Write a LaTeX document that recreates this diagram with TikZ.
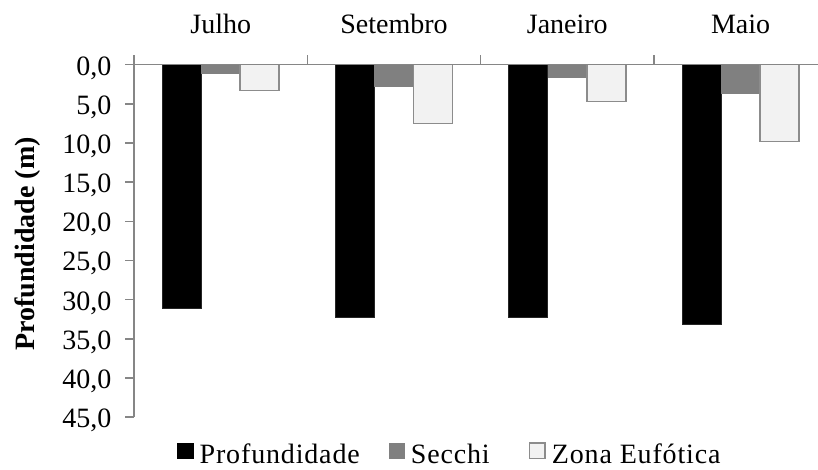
\documentclass[tikz,border=0pt]{standalone}
\usepackage{fontspec}
\setmainfont{Liberation Serif}
\definecolor{axisgray}{HTML}{868686}
\definecolor{secchigray}{HTML}{808080}
\definecolor{eufill}{HTML}{F2F2F2}
\definecolor{euline}{HTML}{8C8C8C}
\tikzset{
  axisline/.style={draw=axisgray, line width=1.5pt},
  lbl/.style={font=\fontsize{28}{32}\selectfont, inner sep=0pt, text=black},
  leglbl/.style={font=\fontsize{28}{32}\selectfont\addfontfeature{LetterSpace=3}, inner sep=0pt, anchor=base west},
  profbar/.style={fill=black, draw=black!85, line width=0.8pt},
  secbar/.style={fill=secchigray},
  eubar/.style={fill=eufill, draw=euline, line width=1.5pt},
}
\begin{document}
\begin{tikzpicture}[x=1pt,y=-1pt]
\useasboundingbox (0,0) rectangle (818,469);
\def\yz{64.7}
\def\ys{7.83}
% bars
\foreach \p/\s/\e [count=\i from 0] in {31.1/1.2/3.3, 32.3/2.9/7.5, 32.3/1.7/4.7, 33.2/3.8/9.8}{
  \pgfmathsetmacro{\cx}{134+173.3*(\i+0.5)}
  \pgfmathsetmacro{\yp}{\yz+\ys*\p}
  \pgfmathsetmacro{\ysc}{\yz+\ys*\s}
  \pgfmathsetmacro{\yeu}{\yz+\ys*\e}
  \path[profbar] (\cx-58.5,\yz) rectangle (\cx-19.5,\yp);
  \path[secbar] (\cx-19.5,\yz) rectangle (\cx+19.5,\ysc);
  \path[eubar] (\cx+19.5,\yz) rectangle (\cx+58.5,\yeu);
}
% axes
\draw[axisline] (125,\yz) -- (818,\yz);
\draw[axisline] (134,55) -- (134,{\yz+\ys*45});
\foreach \v in {5,10,...,45}{
  \draw[axisline] (125,{\yz+\ys*\v}) -- (134,{\yz+\ys*\v});
}
\foreach \x in {307.3,480.6,653.9}{
  \draw[axisline] (\x,55) -- (\x,\yz);
}
% y tick labels
\foreach \v/\t in {0/{0,0},5/{5,0},10/{10,0},15/{15,0},20/{20,0},25/{25,0},30/{30,0},35/{35,0},40/{40,0},45/{45,0}}{
  \node[lbl, anchor=base east] (yl\v) at (111.5,{\yz+\ys*\v+10.5}) {\t};
}
% category labels
\node[lbl, anchor=base] (cJul) at (220.7,33.3) {Julho};
\node[lbl, anchor=base] (cSet) at (394.0,33.3) {Setembro};
\node[lbl, anchor=base] (cJan) at (567.3,33.3) {Janeiro};
\node[lbl, anchor=base] (cMai) at (740.6,33.3) {Maio};
% axis title
\node[lbl, font=\fontsize{28}{32}\selectfont\bfseries, rotate=90, anchor=base] (ytitle) at (34.5,244) {Profundidade (m)};
% legend
\path[fill=black] (177.3,442.7) rectangle (193.5,458.5);
\node[leglbl] (lgP) at (199.5,463) {Profundidade};
\path[fill=secchigray] (389.3,442.7) rectangle (405.3,458.5);
\node[leglbl] (lgS) at (410.7,463) {Secchi};
\path[fill=eufill, draw=euline, line width=1.5pt] (529.5,443.2) rectangle (545,458.3);
\node[leglbl] (lgZ) at (551.7,463) {Zona Eufótica};
\end{tikzpicture}
\end{document}
